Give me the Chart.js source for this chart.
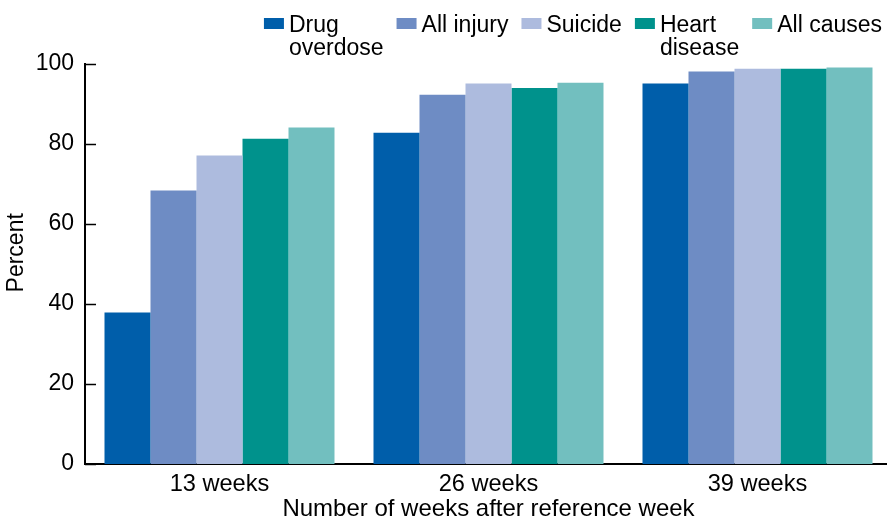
<!DOCTYPE html>
<html><head><meta charset="utf-8">
<script src="https://cdn.jsdelivr.net/npm/chart.js@4/dist/chart.umd.min.js"></script>
<style>html,body{margin:0;padding:0;overflow:hidden;background:#fff}</style>
</head><body><canvas id="c" width="892" height="521"></canvas>
<script>
const categories = ['13 weeks', '26 weeks', '39 weeks'];
const seriesNames = ['Drug\noverdose', 'All injury', 'Suicide', 'Heart\ndisease', 'All causes'];
const drugOverdose = [37.9, 82.8, 95.1];
const allInjury = [68.4, 92.3, 98.1];
const suicide = [77.1, 95.1, 98.8];
const heartDisease = [81.3, 94.0, 98.8];
const allCauses = [84.1, 95.3, 99.1];
const seriesColors = ['#005EAA', '#6E8CC4', '#ADBBDE', '#00928C', '#72BFBF'];
const yTicks = [0, 20, 40, 60, 80, 100];
const xTitle = 'Number of weeks after reference week';
const yTitle = 'Percent';

const FONT = '"Liberation Sans", Arial, sans-serif';
const seriesValues = [drugOverdose, allInjury, suicide, heartDisease, allCauses];

const legendPlugin = {
  id: 'customLegend',
  afterDraw(chart) {
    const ctx = chart.ctx;
    ctx.save();
    ctx.font = '23px ' + FONT;
    ctx.textBaseline = 'alphabetic';
    const boxW = 20, boxH = 11, boxGap = 5, itemGap = 13, lineH = 23, base = 31.5, right = 882;
    const items = chart.data.datasets.map(ds => {
      const lines = ds.label.split('\n');
      const w = Math.max(...lines.map(l => ctx.measureText(l).width));
      return { lines, w, color: ds.backgroundColor };
    });
    const total = items.reduce((s, it) => s + boxW + boxGap + it.w, 0) + itemGap * (items.length - 1);
    let x = right - total;
    items.forEach(it => {
      ctx.fillStyle = it.color;
      ctx.fillRect(x, 18, boxW, boxH);
      ctx.fillStyle = '#000';
      it.lines.forEach((l, i) => ctx.fillText(l, x + boxW + boxGap, base + i * lineH));
      x += boxW + boxGap + it.w + itemGap;
    });
    ctx.restore();
  }
};

const innerTicks = {
  id: 'innerTicks',
  afterDraw(chart) {
    const y = chart.scales.y;
    const ctx = chart.ctx;
    ctx.save();
    ctx.strokeStyle = '#000';
    ctx.lineWidth = 1.5;
    y.ticks.forEach(t => {
      const py = Math.round(y.getPixelForValue(t.value)) + 0.5;
      ctx.beginPath();
      ctx.moveTo(y.right, py);
      ctx.lineTo(y.right + 11, py);
      ctx.stroke();
    });
    // y axis title, placed slightly above the plot's vertical centre as in the reference
    ctx.fillStyle = '#000';
    ctx.font = '23px ' + FONT;
    ctx.textAlign = 'center';
    ctx.textBaseline = 'middle';
    ctx.translate(17, y.getPixelForValue(52.8));
    ctx.rotate(-Math.PI / 2);
    ctx.fillText(yTitle, 0, 0);
    ctx.restore();
  }
};

new Chart(document.getElementById('c'), {
  type: 'bar',
  data: {
    labels: categories,
    datasets: seriesNames.map((name, i) => ({
      label: name,
      data: seriesValues[i],
      backgroundColor: seriesColors[i],
      borderWidth: 0,
      barPercentage: 1,
      categoryPercentage: 0.855
    }))
  },
  options: {
    responsive: false,
    animation: false,
    layout: { padding: { top: 64, left: 0, right: 0, bottom: 0 } },
    plugins: { legend: { display: false }, tooltip: { enabled: false } },
    scales: {
      x: {
        grid: { display: false, drawTicks: false },
        border: { display: true, color: '#000', width: 2 },
        ticks: { color: '#000', font: { family: FONT, size: 23.6 }, padding: 6 },
        title: { display: true, text: xTitle, color: '#000', font: { family: FONT, size: 24, lineHeight: 1.0 }, padding: { top: 0, bottom: 0 } },
        afterFit(scale) { scale.height = 57; }
      },
      y: {
        min: 0, max: 100,
        afterBuildTicks(scale) { scale.ticks = yTicks.map(v => ({ value: v })); },
        grid: { display: false, drawTicks: false },
        border: { display: true, color: '#000', width: 2 },
        ticks: { color: '#000', font: { family: FONT, size: 23 }, padding: 11 },
        title: { display: false, text: yTitle },
        afterFit(scale) { scale.width = 85; }
      }
    }
  },
  plugins: [legendPlugin, innerTicks]
});
</script>
</body></html>
